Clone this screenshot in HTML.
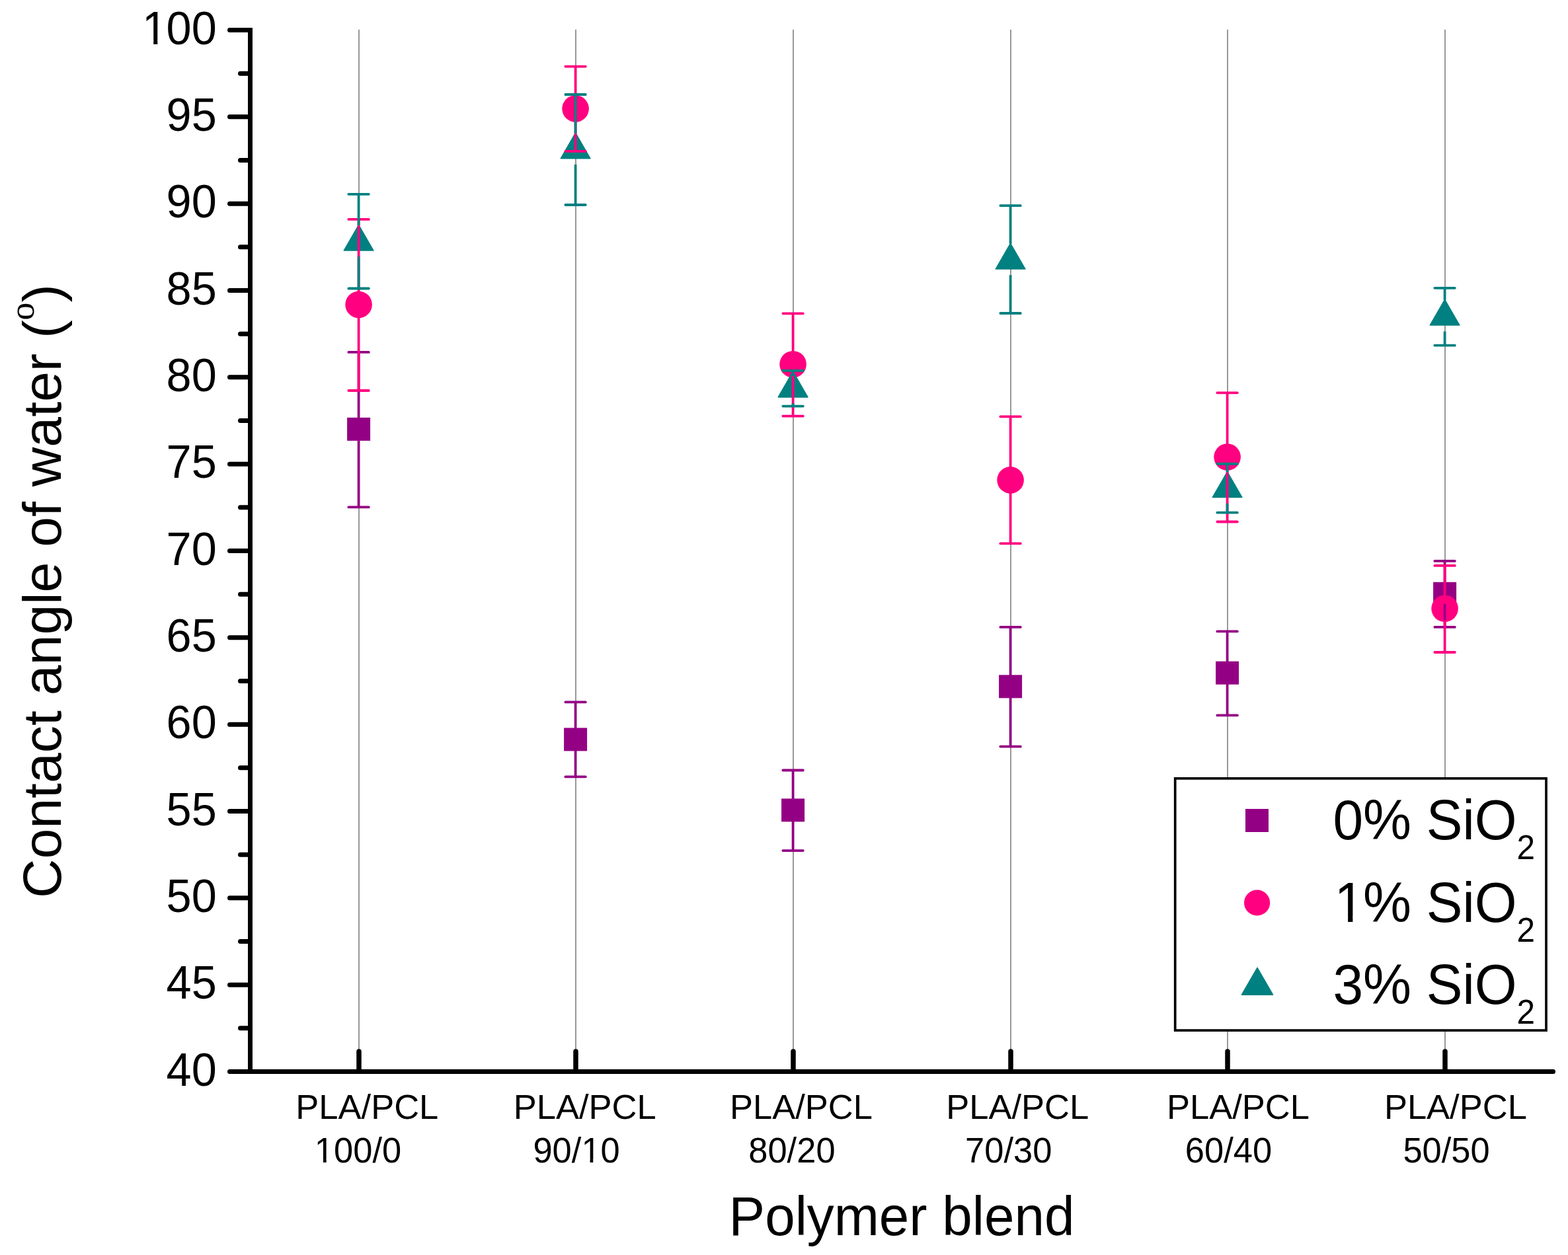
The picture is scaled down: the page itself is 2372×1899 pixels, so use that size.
<!DOCTYPE html>
<html><head><meta charset="utf-8"><title>Contact angle of water</title>
<style>html,body{margin:0;padding:0;background:#fff;}body{width:2372px;height:1899px;overflow:hidden;}svg{display:block;}</style>
</head><body>
<svg width="2372" height="1899" viewBox="0 0 2372 1899" font-family="'Liberation Sans', Arial, sans-serif">
<rect width="2372" height="1899" fill="#fff"/>
<line x1="543.00" y1="44.8" x2="543.00" y2="1590" stroke="#989898" stroke-width="2"/>
<line x1="871.00" y1="44.8" x2="871.00" y2="1590" stroke="#989898" stroke-width="2"/>
<line x1="1200.00" y1="44.8" x2="1200.00" y2="1590" stroke="#989898" stroke-width="2"/>
<line x1="1529.00" y1="44.8" x2="1529.00" y2="1590" stroke="#989898" stroke-width="2"/>
<line x1="1857.00" y1="44.8" x2="1857.00" y2="1590" stroke="#989898" stroke-width="2"/>
<line x1="2186.00" y1="44.8" x2="2186.00" y2="1590" stroke="#989898" stroke-width="2"/>
<rect x="525.10" y="631.90" width="35.0" height="35.0" fill="#940084"/>
<rect x="853.10" y="1101.40" width="35.0" height="35.0" fill="#940084"/>
<rect x="1182.10" y="1208.40" width="35.0" height="35.0" fill="#940084"/>
<rect x="1511.10" y="1021.30" width="35.0" height="35.0" fill="#940084"/>
<rect x="1839.10" y="1000.70" width="35.0" height="35.0" fill="#940084"/>
<rect x="2168.10" y="880.80" width="35.0" height="35.0" fill="#940084"/>
<circle cx="542.60" cy="460.90" r="20.3" fill="#ff0080"/>
<circle cx="870.60" cy="164.50" r="20.3" fill="#ff0080"/>
<circle cx="1199.60" cy="551.20" r="20.3" fill="#ff0080"/>
<circle cx="1528.60" cy="726.40" r="20.3" fill="#ff0080"/>
<circle cx="1856.60" cy="691.60" r="20.3" fill="#ff0080"/>
<circle cx="2185.60" cy="920.80" r="20.3" fill="#ff0080"/>
<path d="M542.60 340.30 L564.94 379.00 L520.26 379.00 Z" fill="#008080" stroke="#008080" stroke-width="1.5" stroke-linejoin="round"/>
<path d="M870.60 201.10 L892.94 239.80 L848.26 239.80 Z" fill="#008080" stroke="#008080" stroke-width="1.5" stroke-linejoin="round"/>
<path d="M1199.60 562.20 L1221.94 600.90 L1177.26 600.90 Z" fill="#008080" stroke="#008080" stroke-width="1.5" stroke-linejoin="round"/>
<path d="M1528.60 368.30 L1550.94 407.00 L1506.26 407.00 Z" fill="#008080" stroke="#008080" stroke-width="1.5" stroke-linejoin="round"/>
<path d="M1856.60 713.90 L1878.94 752.60 L1834.26 752.60 Z" fill="#008080" stroke="#008080" stroke-width="1.5" stroke-linejoin="round"/>
<path d="M2185.60 453.40 L2207.94 492.10 L2163.26 492.10 Z" fill="#008080" stroke="#008080" stroke-width="1.5" stroke-linejoin="round"/>
<path d="M542.60 532.90 V633.90 M542.60 664.90 V767.40" stroke="#940084" stroke-width="3.8" fill="none" stroke-linecap="butt"/>
<path d="M527.35 532.90 H557.85 M527.35 767.40 H557.85" stroke="#940084" stroke-width="3.8" fill="none" stroke-linecap="round"/>
<path d="M870.60 1062.40 V1103.40 M870.60 1134.40 V1175.40" stroke="#940084" stroke-width="3.8" fill="none" stroke-linecap="butt"/>
<path d="M855.35 1062.40 H885.85 M855.35 1175.40 H885.85" stroke="#940084" stroke-width="3.8" fill="none" stroke-linecap="round"/>
<path d="M1199.60 1165.50 V1210.40 M1199.60 1241.40 V1287.10" stroke="#940084" stroke-width="3.8" fill="none" stroke-linecap="butt"/>
<path d="M1184.35 1165.50 H1214.85 M1184.35 1287.10 H1214.85" stroke="#940084" stroke-width="3.8" fill="none" stroke-linecap="round"/>
<path d="M1528.60 948.90 V1023.30 M1528.60 1054.30 V1129.70" stroke="#940084" stroke-width="3.8" fill="none" stroke-linecap="butt"/>
<path d="M1513.35 948.90 H1543.85 M1513.35 1129.70 H1543.85" stroke="#940084" stroke-width="3.8" fill="none" stroke-linecap="round"/>
<path d="M1856.60 955.40 V1002.70 M1856.60 1033.70 V1082.40" stroke="#940084" stroke-width="3.8" fill="none" stroke-linecap="butt"/>
<path d="M1841.35 955.40 H1871.85 M1841.35 1082.40 H1871.85" stroke="#940084" stroke-width="3.8" fill="none" stroke-linecap="round"/>
<path d="M2185.60 848.90 V882.80 M2185.60 913.80 V948.90" stroke="#940084" stroke-width="3.8" fill="none" stroke-linecap="butt"/>
<path d="M2170.35 848.90 H2200.85 M2170.35 948.90 H2200.85" stroke="#940084" stroke-width="3.8" fill="none" stroke-linecap="round"/>
<path d="M542.60 331.90 V443.30 M542.60 478.50 V591.00" stroke="#ff0080" stroke-width="3.8" fill="none" stroke-linecap="butt"/>
<path d="M527.35 331.90 H557.85 M527.35 591.00 H557.85" stroke="#ff0080" stroke-width="3.8" fill="none" stroke-linecap="round"/>
<path d="M870.60 100.60 V146.90 M870.60 182.10 V228.80" stroke="#ff0080" stroke-width="3.8" fill="none" stroke-linecap="butt"/>
<path d="M855.35 100.60 H885.85 M855.35 228.80 H885.85" stroke="#ff0080" stroke-width="3.8" fill="none" stroke-linecap="round"/>
<path d="M1199.60 474.30 V533.60 M1199.60 568.80 V629.60" stroke="#ff0080" stroke-width="3.8" fill="none" stroke-linecap="butt"/>
<path d="M1184.35 474.30 H1214.85 M1184.35 629.60 H1214.85" stroke="#ff0080" stroke-width="3.8" fill="none" stroke-linecap="round"/>
<path d="M1528.60 630.40 V708.80 M1528.60 744.00 V822.40" stroke="#ff0080" stroke-width="3.8" fill="none" stroke-linecap="butt"/>
<path d="M1513.35 630.40 H1543.85 M1513.35 822.40 H1543.85" stroke="#ff0080" stroke-width="3.8" fill="none" stroke-linecap="round"/>
<path d="M1856.60 594.40 V674.00 M1856.60 709.20 V789.50" stroke="#ff0080" stroke-width="3.8" fill="none" stroke-linecap="butt"/>
<path d="M1841.35 594.40 H1871.85 M1841.35 789.50 H1871.85" stroke="#ff0080" stroke-width="3.8" fill="none" stroke-linecap="round"/>
<path d="M2185.60 855.90 V903.20 M2185.60 938.40 V987.00" stroke="#ff0080" stroke-width="3.8" fill="none" stroke-linecap="butt"/>
<path d="M2170.35 855.90 H2200.85 M2170.35 987.00 H2200.85" stroke="#ff0080" stroke-width="3.8" fill="none" stroke-linecap="round"/>
<path d="M542.60 293.80 V341.10 M542.60 388.30 V436.50" stroke="#008080" stroke-width="3.8" fill="none" stroke-linecap="butt"/>
<path d="M527.35 293.80 H557.85 M527.35 436.50 H557.85" stroke="#008080" stroke-width="3.8" fill="none" stroke-linecap="round"/>
<path d="M870.60 143.00 V201.90 M870.60 249.10 V310.00" stroke="#008080" stroke-width="3.8" fill="none" stroke-linecap="butt"/>
<path d="M855.35 143.00 H885.85 M855.35 310.00 H885.85" stroke="#008080" stroke-width="3.8" fill="none" stroke-linecap="round"/>
<path d="M1199.60 560.80 V563.00 M1199.60 610.20 V614.60" stroke="#008080" stroke-width="3.8" fill="none" stroke-linecap="butt"/>
<path d="M1184.35 560.80 H1214.85 M1184.35 614.60 H1214.85" stroke="#008080" stroke-width="3.8" fill="none" stroke-linecap="round"/>
<path d="M1528.60 311.10 V369.10 M1528.60 416.30 V474.00" stroke="#008080" stroke-width="3.8" fill="none" stroke-linecap="butt"/>
<path d="M1513.35 311.10 H1543.85 M1513.35 474.00 H1543.85" stroke="#008080" stroke-width="3.8" fill="none" stroke-linecap="round"/>
<path d="M1856.60 701.80 V714.70 M1856.60 761.90 V775.70" stroke="#008080" stroke-width="3.8" fill="none" stroke-linecap="butt"/>
<path d="M1841.35 701.80 H1871.85 M1841.35 775.70 H1871.85" stroke="#008080" stroke-width="3.8" fill="none" stroke-linecap="round"/>
<path d="M2185.60 435.80 V454.20 M2185.60 501.40 V522.70" stroke="#008080" stroke-width="3.8" fill="none" stroke-linecap="butt"/>
<path d="M2170.35 435.80 H2200.85 M2170.35 522.70 H2200.85" stroke="#008080" stroke-width="3.8" fill="none" stroke-linecap="round"/>
<path d="M378.5 42 V1625" stroke="#000" stroke-width="7" fill="none"/>
<path d="M375 1621.5 H2349.5" stroke="#000" stroke-width="7" fill="none" stroke-linecap="round"/>
<path d="M347.5 45.50 H378 M347.5 176.83 H378 M347.5 308.17 H378 M347.5 439.50 H378 M347.5 570.83 H378 M347.5 702.17 H378 M347.5 833.50 H378 M347.5 964.83 H378 M347.5 1096.17 H378 M347.5 1227.50 H378 M347.5 1358.83 H378 M347.5 1490.17 H378 M347.5 1621.50 H378 M363.5 111.17 H378 M363.5 242.50 H378 M363.5 373.83 H378 M363.5 505.17 H378 M363.5 636.50 H378 M363.5 767.83 H378 M363.5 899.17 H378 M363.5 1030.50 H378 M363.5 1161.83 H378 M363.5 1293.17 H378 M363.5 1424.50 H378 M363.5 1555.83 H378" stroke="#000" stroke-width="7" stroke-linecap="round" fill="none"/>
<path d="M543.00 1591 V1621 M871.00 1591 V1621 M1200.00 1591 V1621 M1529.00 1591 V1621 M1857.00 1591 V1621 M2186.00 1591 V1621" stroke="#000" stroke-width="7.5" stroke-linecap="round" fill="none"/>
<text transform="translate(213.51 66.50) scale(1 1.015)" font-size="68.5" text-anchor="start" dx="1.5 -1.5">100</text>
<text transform="translate(327.80 197.83) scale(1 1.015)" font-size="68.5" text-anchor="end" >95</text>
<text transform="translate(327.80 329.17) scale(1 1.015)" font-size="68.5" text-anchor="end" >90</text>
<text transform="translate(327.80 460.50) scale(1 1.015)" font-size="68.5" text-anchor="end" >85</text>
<text transform="translate(327.80 591.83) scale(1 1.015)" font-size="68.5" text-anchor="end" >80</text>
<text transform="translate(327.80 723.17) scale(1 1.015)" font-size="68.5" text-anchor="end" >75</text>
<text transform="translate(327.80 854.50) scale(1 1.015)" font-size="68.5" text-anchor="end" >70</text>
<text transform="translate(327.80 985.83) scale(1 1.015)" font-size="68.5" text-anchor="end" >65</text>
<text transform="translate(327.80 1117.17) scale(1 1.015)" font-size="68.5" text-anchor="end" >60</text>
<text transform="translate(327.80 1248.50) scale(1 1.015)" font-size="68.5" text-anchor="end" >55</text>
<text transform="translate(327.80 1379.83) scale(1 1.015)" font-size="68.5" text-anchor="end" >50</text>
<text transform="translate(327.80 1511.17) scale(1 1.015)" font-size="68.5" text-anchor="end" >45</text>
<text transform="translate(327.80 1642.50) scale(1 1.015)" font-size="68.5" text-anchor="end" >40</text>
<text transform="translate(555.30 1693.00) scale(1 1.0)" font-size="52.5" text-anchor="middle" >PLA/PCL</text>
<text transform="translate(541.50 1759.00) scale(1 1.027)" font-size="52.5" text-anchor="middle" >100/0</text>
<text transform="translate(884.70 1693.00) scale(1 1.0)" font-size="52.5" text-anchor="middle" >PLA/PCL</text>
<text transform="translate(872.10 1759.00) scale(1 1.027)" font-size="52.5" text-anchor="middle" >90/10</text>
<text transform="translate(1212.00 1693.00) scale(1 1.0)" font-size="52.5" text-anchor="middle" >PLA/PCL</text>
<text transform="translate(1197.90 1759.00) scale(1 1.027)" font-size="52.5" text-anchor="middle" >80/20</text>
<text transform="translate(1539.25 1693.00) scale(1 1.0)" font-size="52.5" text-anchor="middle" >PLA/PCL</text>
<text transform="translate(1525.75 1759.00) scale(1 1.027)" font-size="52.5" text-anchor="middle" >70/30</text>
<text transform="translate(1873.00 1693.00) scale(1 1.0)" font-size="52.5" text-anchor="middle" >PLA/PCL</text>
<text transform="translate(1858.45 1759.00) scale(1 1.027)" font-size="52.5" text-anchor="middle" >60/40</text>
<text transform="translate(2201.85 1693.00) scale(1 1.0)" font-size="52.5" text-anchor="middle" >PLA/PCL</text>
<text transform="translate(2188.05 1759.00) scale(1 1.027)" font-size="52.5" text-anchor="middle" >50/50</text>
<text transform="translate(1364.00 1869.10) scale(1 1.01)" font-size="81.8" text-anchor="middle" >Polymer blend</text>
<text transform="translate(92.2 1359.1) rotate(-90)" font-size="82.4" text-anchor="start">Contact angle of water (<tspan font-family="Liberation Serif, serif" font-size="53.8" dy="-40.8">o</tspan><tspan dy="40.8">)</tspan></text>
<rect x="1777.7" y="1177.9" width="561.3" height="381.2" fill="#fff" stroke="#000" stroke-width="3.7"/>
<rect x="1884.00" y="1224.00" width="35.0" height="35.0" fill="#940084"/>
<circle cx="1901.60" cy="1366.00" r="19.6" fill="#ff0080"/>
<path d="M1902.00 1464.40 L1925.56 1505.20 L1878.44 1505.20 Z" fill="#008080" stroke="#008080" stroke-width="1.5" stroke-linejoin="round"/>
<text transform="translate(2016.5 1270.10) scale(1 1.04)" font-size="82">0% SiO<tspan font-size="49.5" dy="29">2</tspan></text>
<text transform="translate(2016.5 1394.55) scale(1 1.04)" font-size="82" dx="2.0 -2.0">1% SiO<tspan font-size="49.5" dy="29">2</tspan></text>
<text transform="translate(2016.5 1519.00) scale(1 1.04)" font-size="82">3% SiO<tspan font-size="49.5" dy="29">2</tspan></text>
<g fill="#fff" transform="translate(327.80 66.50) scale(1 1.015)"><rect x="-108.57" y="-6.12" width="13.01" height="7.12"/><rect x="-89.51" y="-6.12" width="12.47" height="7.12"/></g>
<g fill="#fff" transform="translate(541.50 1759.00) scale(1 1.027)"><rect x="-62.69" y="-4.92" width="10.20" height="5.92"/><rect x="-47.85" y="-4.92" width="9.79" height="5.92"/></g>
<g fill="#fff" transform="translate(872.10 1759.00) scale(1 1.027)"><rect x="10.29" y="-4.92" width="10.20" height="5.92"/><rect x="25.13" y="-4.92" width="9.79" height="5.92"/></g>
<g fill="#fff" transform="translate(2016.50 1394.55) scale(1 1.04)"><rect x="7.25" y="-7.13" width="15.37" height="8.13"/><rect x="29.87" y="-7.13" width="14.73" height="8.13"/></g>
</svg>
</body></html>
